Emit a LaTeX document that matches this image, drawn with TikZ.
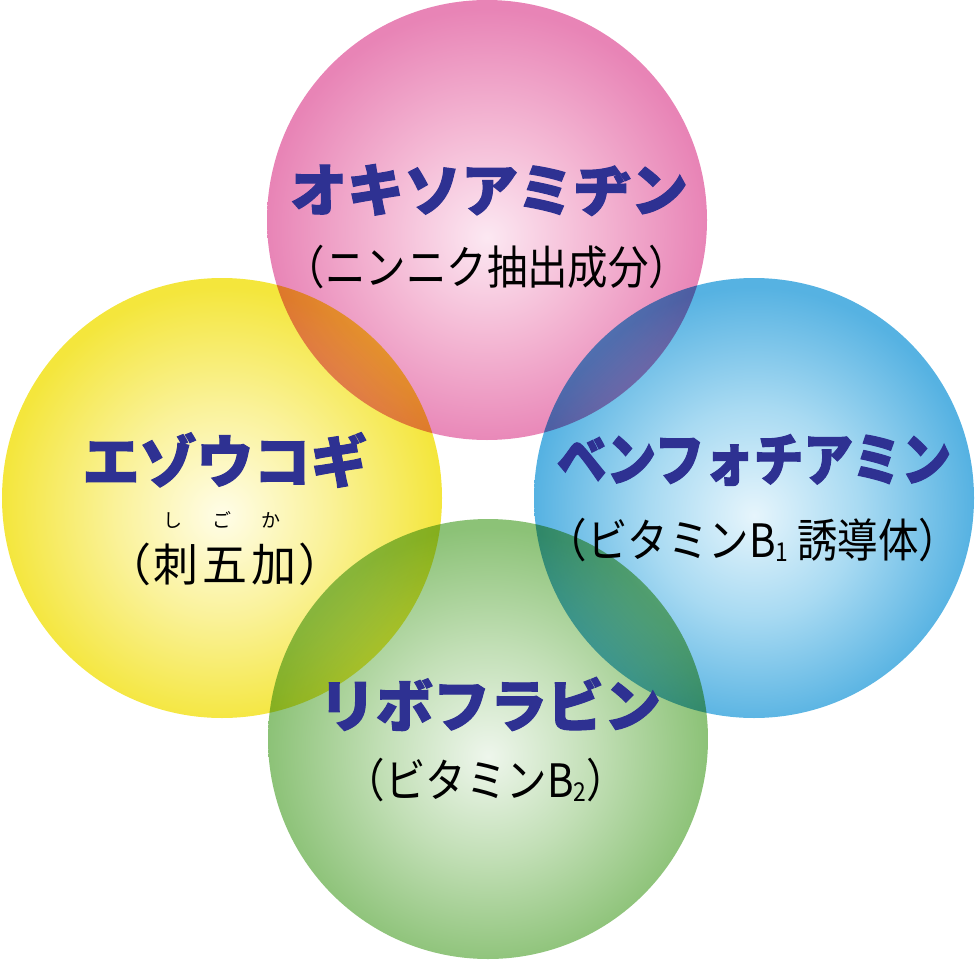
\documentclass[tikz,border=0pt]{standalone}
\usepackage{fontspec}
\newfontfamily\jpfont{Noto Sans CJK JP}[BoldFeatures={FakeBold=2}]
\newfontfamily\jpnarrow{Noto Sans CJK JP}[FakeStretch=0.87, BoldFeatures={FakeBold=2}]
\newfontfamily\jpsubfont{Noto Sans CJK JP}[FakeStretch=0.88]
\usetikzlibrary{positioning}

\definecolor{navy}{HTML}{2E3192}
\definecolor{pinkin}{HTML}{FCE8F2}
\definecolor{pinkmid}{HTML}{F4B8D4}
\definecolor{pinkout}{HTML}{E884B6}
\definecolor{yellowin}{HTML}{FFFDE8}
\definecolor{yellowmid}{HTML}{FAF29A}
\definecolor{yellowout}{HTML}{F4E63C}
\definecolor{bluein}{HTML}{E6F5FC}
\definecolor{bluemid}{HTML}{A8DAF2}
\definecolor{blueout}{HTML}{56B2E2}
\definecolor{greenin}{HTML}{EEF6EC}
\definecolor{greenmid}{HTML}{C2DFB6}
\definecolor{greenout}{HTML}{8CC277}

\pgfdeclareradialshading{pinkball}{\pgfpoint{0bp}{-2bp}}{color(0bp)=(pinkin); color(12bp)=(pinkmid); color(25bp)=(pinkout); color(50bp)=(pinkout)}
\pgfdeclareradialshading{yellowball}{\pgfpoint{0bp}{-2bp}}{color(0bp)=(yellowin); color(12bp)=(yellowmid); color(25bp)=(yellowout); color(50bp)=(yellowout)}
\pgfdeclareradialshading{blueball}{\pgfpoint{0bp}{-2bp}}{color(0bp)=(bluein); color(12bp)=(bluemid); color(25bp)=(blueout); color(50bp)=(blueout)}
\pgfdeclareradialshading{greenball}{\pgfpoint{0bp}{-2bp}}{color(0bp)=(greenin); color(12bp)=(greenmid); color(25bp)=(greenout); color(50bp)=(greenout)}

\newcommand{\kbox}[1]{\makebox[49pt]{#1}}
\newcommand{\lowsub}[1]{\raisebox{-4pt}{\fontsize{26}{26}\selectfont #1}}

\begin{document}
\begin{tikzpicture}[
        x=1pt, y=-1pt,
        ball/.style={circle, minimum size=440pt, inner sep=0pt, draw=none},
        titlen/.style={text=navy, inner sep=0pt, font=\jpfont\bfseries\fontsize{57}{64}\selectfont},
        subn/.style={text=black, inner sep=0pt, font=\jpsubfont\fontsize{46}{52}\selectfont},
        rubyn/.style={text=black, inner sep=0pt, font=\jpfont\fontsize{19}{22}\selectfont},
    ]
    \useasboundingbox (0,0) rectangle (976,960);
    \begin{scope}[blend group=multiply]
    \node[ball, shading=pinkball](pink) at (487,220){};
    \node[ball, shading=yellowball](yellow) at (222,498){};
    \node[ball, shading=blueball](blue) at (754,498){};
    \node[ball, shading=greenball](green) at (488,739){};
    \end{scope}

    \node[titlen](oki) at (489,190){オキソアミヂン};
    \node[subn](okisub) at (487,267){（ニンニク抽出成分）};

    \node[titlen](ezo) at (225,460){エゾウコギ};
    \node[rubyn](ruby) at (222,520){\kbox{し}\kbox{ご}\kbox{か}};
    \node[subn, font=\jpfont\fontsize{45}{52}\selectfont](ezosub) at (225,564){（\kbox{刺}\kbox{五}\kbox{加}）};

    \node[titlen, font=\jpnarrow\bfseries\fontsize{57}{64}\selectfont](ben) at (754,460){ベンフォチアミン};
    \node[subn](bensub) at (753,540){（ビタミンB\lowsub{1} 誘導体）};

    \node[titlen](ribo) at (490,704){リボフラビン};
    \node[subn](ribosub) at (486,780){（ビタミンB\lowsub{2}）};
\end{tikzpicture}
\end{document}
